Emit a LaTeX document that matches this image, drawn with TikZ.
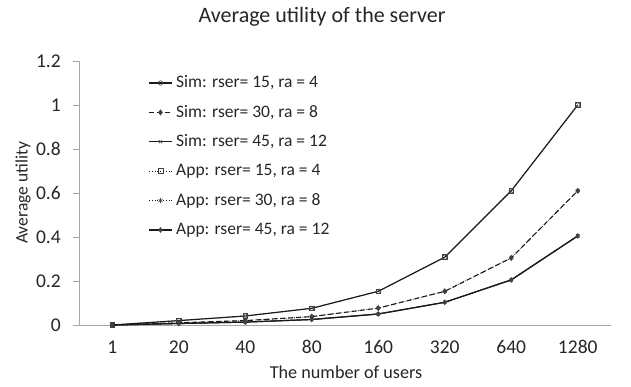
\documentclass[tikz,border=0pt]{standalone}
\usepackage{fontspec}
\setmainfont{Carlito}
\usetikzlibrary{plotmarks}
\definecolor{axisgrey}{HTML}{A6A6A6}
\definecolor{linek}{HTML}{1A1A1A}
\definecolor{markgrey}{HTML}{404040}
\begin{document}
\begin{tikzpicture}[x=1pt,y=1pt,
  axisline/.style={draw=axisgrey,line width=0.8pt},
  ticklab/.style={font=\fontsize{19.5}{19.5}\selectfont,text=black!85,inner sep=0pt},
  legtext/.style={font=\fontsize{17.5}{17.5}\selectfont,text=black!85,anchor=west,inner sep=0pt},
  simA/.style={draw=linek,line width=1.2pt,mark=o,mark size=2.2pt,mark options={draw=markgrey,solid,line width=0.6pt}},
  appA/.style={draw=linek,line width=0.8pt,dotted,mark=square,mark size=2.4pt,mark options={draw=markgrey,solid,line width=0.7pt}},
  simB/.style={draw=linek,line width=1.1pt,dash pattern=on 5pt off 3pt,mark=diamond*,mark size=2.2pt,mark options={fill=markgrey,draw=markgrey,solid}},
  appB/.style={draw=linek,line width=0.8pt,dotted,mark=asterisk,mark size=2.4pt,mark options={draw=markgrey,solid,line width=0.6pt}},
  simC/.style={draw=linek,line width=1.2pt,mark=x,mark size=2.4pt,mark options={draw=markgrey,solid,line width=0.6pt}},
  appC/.style={draw=linek,line width=1.2pt,mark=diamond*,mark size=1.9pt,mark options={fill=markgrey,draw=markgrey,solid}}
]
\useasboundingbox (0,0) rectangle (631,386);
% title
\node[font=\fontsize{22}{22}\selectfont,text=black!85] (title) at (322,369) {Average utility of the server};
% axes
\coordinate (o) at (79,61);
\coordinate (ytop) at (79,325);
\coordinate (xend) at (611,61);
\draw[axisline] (ytop) -- (o) -- (xend);
\foreach \v/\t [count=\i from 0] in {0/0,0.2/0.2,0.4/0.4,0.6/0.6,0.8/0.8,1/1,1.2/1.2}{
  \draw[axisline] (73,61+220*\v) -- (79,61+220*\v);
  \node[ticklab,anchor=east] (yt\i) at (61,61+220*\v) {\t};
}
\foreach \t [count=\i from 0] in {1,20,40,80,160,320,640,1280}{
  \node[ticklab] (xt\i) at (112.25+66.5*\i,39) {\t};
}
\node[font=\fontsize{18.2}{18.2}\selectfont,text=black!85] (xlab) at (346,14) {The number of users};
\node[font=\fontsize{17.5}{17.5}\selectfont,text=black!85,rotate=90] (ylab) at (23,193) {Average utility};
% series
\draw[simA] plot coordinates {(112.25,61) (178.75,65.4) (245.25,70.0) (311.75,77.7) (378.25,94.7) (444.75,128.8) (511.25,195.2) (577.75,281)};
\draw[appA] plot coordinates {(112.25,61) (178.75,65.4) (245.25,70.0) (311.75,77.7) (378.25,94.7) (444.75,128.8) (511.25,195.2) (577.75,281)};
\draw[simB] plot coordinates {(112.25,61) (178.75,63.2) (245.25,65.4) (311.75,69.4) (378.25,77.9) (444.75,94.7) (511.25,128.1) (577.75,195.2)};
\draw[appB] plot coordinates {(112.25,61) (178.75,63.2) (245.25,65.4) (311.75,69.4) (378.25,77.9) (444.75,94.7) (511.25,128.1) (577.75,195.2)};
\draw[simC] plot coordinates {(112.25,61) (178.75,62.5) (245.25,63.9) (311.75,66.5) (378.25,72) (444.75,83.7) (511.25,106.1) (577.75,150.1)};
\draw[appC] plot coordinates {(112.25,61) (178.75,62.5) (245.25,63.9) (311.75,66.5) (378.25,72) (444.75,83.7) (511.25,106.1) (577.75,150.1)};
% legend
\foreach \s/\t [count=\i from 0] in {simA/{Sim: rser= 15, ra = 4},simB/{Sim: rser= 30, ra = 8},simC/{Sim: rser= 45, ra = 12},appA/{App: rser= 15, ra = 4},appB/{App: rser= 30, ra = 8},appC/{App: rser= 45, ra = 12}}{
  \coordinate (la\i) at (149,303-29.4*\i);
  \coordinate (lb\i) at (172,303-29.4*\i);
  \coordinate (lm\i) at (160.5,303-29.4*\i);
  \draw[\s,mark=none] (la\i) -- (lb\i);
  \draw[\s,draw=none] plot coordinates {(lm\i)};
  \node[legtext] (lt\i) at (176,303-29.4*\i) {\t};
}
\end{tikzpicture}
\end{document}
